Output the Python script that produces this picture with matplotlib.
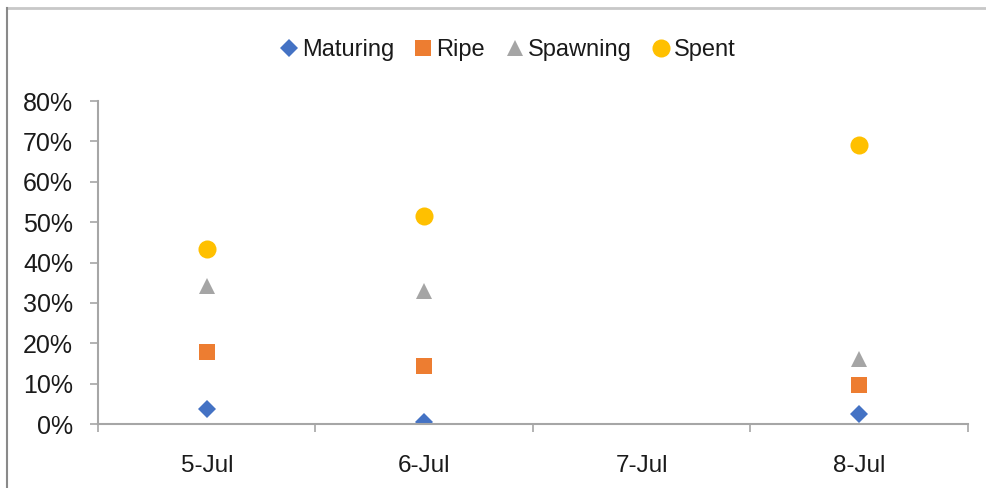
import matplotlib
matplotlib.use('Agg')
import matplotlib.pyplot as plt
from matplotlib.lines import Line2D
from matplotlib.ticker import FuncFormatter, FixedLocator
import numpy as np

# Stage share per sampling day (7-Jul had no sample)
DATES = ['5-Jul', '6-Jul', '7-Jul', '8-Jul']
MATURING = [0.037, 0.005, np.nan, 0.025]
RIPE = [0.178, 0.144, np.nan, 0.097]
SPAWNING = [0.342, 0.329, np.nan, 0.161]
SPENT = [0.433, 0.515, np.nan, 0.691]

plt.rcParams['font.family'] = ['Liberation Sans', 'DejaVu Sans']

fig = plt.figure(figsize=(9.87, 4.88), dpi=100)
ax = fig.add_axes([0.0993, 0.1311, 0.8814, 0.6619])

x = np.arange(len(DATES))
series = [
    ('Maturing', MATURING, 'D', '#4472C4', 9),
    ('Ripe', RIPE, 's', '#ED7D31', 12),
    ('Spawning', SPAWNING, '^', '#A5A5A5', 12),
    ('Spent', SPENT, 'o', '#FFC000', 13),
]
for name, vals, mk, col, ms in series:
    ax.plot(x, vals, linestyle='none', marker=mk, color=col, markersize=ms,
            markeredgewidth=0, label=name)

ax.set_xlim(-0.5, len(DATES) - 0.5)
ax.set_ylim(0, 0.8)
ax.set_yticks(np.arange(0, 0.81, 0.1))
ax.yaxis.set_major_formatter(FuncFormatter(lambda v, p: f'{v * 100:.0f}%'))

ax.set_xticks(x)
ax.set_xticklabels(DATES)
ax.xaxis.set_minor_locator(FixedLocator(np.arange(-0.5, len(DATES), 1.0)))

for side in ('top', 'right'):
    ax.spines[side].set_visible(False)
for side in ('left', 'bottom'):
    ax.spines[side].set_color('#a6a6a6')
    ax.spines[side].set_linewidth(1.5)

ax.tick_params(axis='y', which='major', direction='out', length=6, width=1.2,
               color='#a6a6a6', pad=12, labelsize=18, labelcolor='#1a1a1a')
ax.tick_params(axis='x', which='major', length=0, pad=22, labelsize=17.5,
               labelcolor='#1a1a1a')
ax.tick_params(axis='x', which='minor', direction='out', length=6, width=1.2,
               color='#a6a6a6')

fig.legend(loc='center', bbox_to_anchor=(0.513, 0.898), ncol=4, frameon=False,
           fontsize=17, handletextpad=0.05, columnspacing=0.75,
           handlelength=1.0, labelcolor='#1a1a1a')

# outer chart frame (top and left edges)
fig.add_artist(Line2D([0.0071, 1.0], [0.9836, 0.9836], transform=fig.transFigure,
                      color='#c8c8c8', linewidth=2))
fig.add_artist(Line2D([0.0071, 0.0071], [0.0, 0.9836], transform=fig.transFigure,
                      color='#8a8a8a', linewidth=1.5))

fig.savefig('out.png', dpi=100)
